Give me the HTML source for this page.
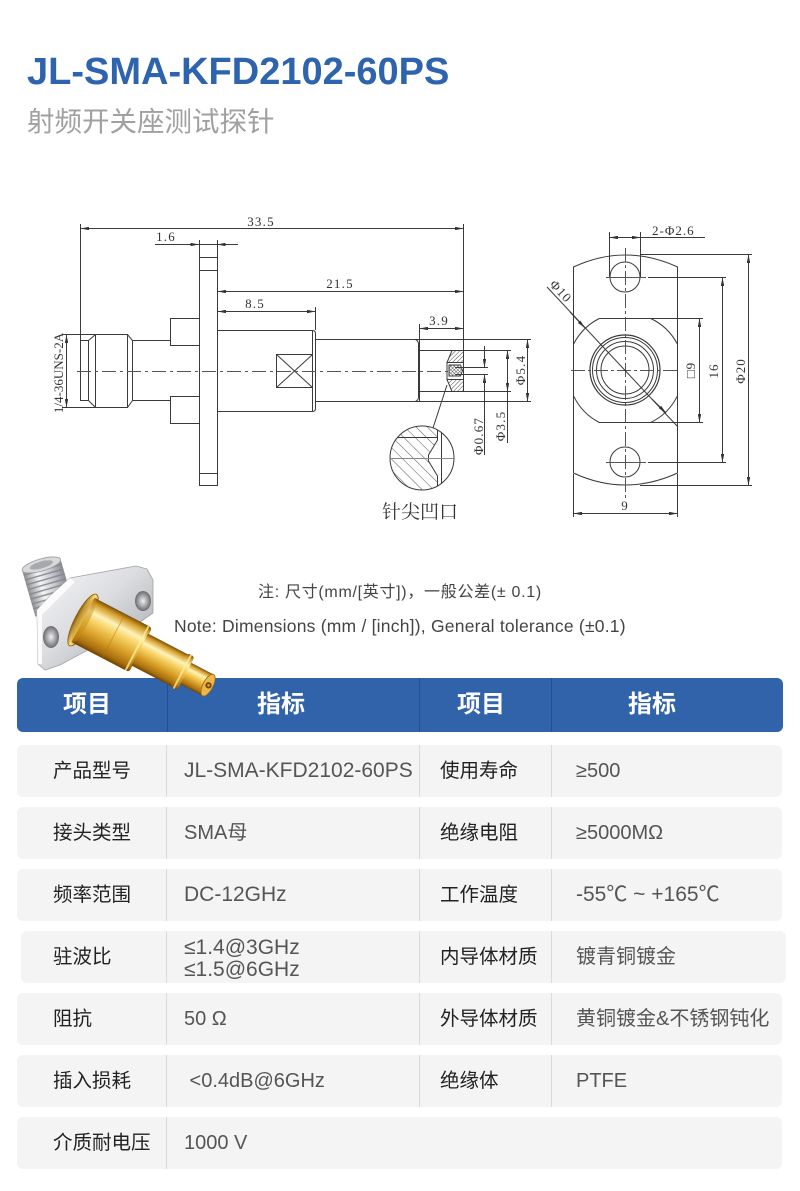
<!DOCTYPE html>
<html><head><meta charset="utf-8">
<style>
*{margin:0;padding:0;box-sizing:border-box}
body{width:800px;height:1191px;background:#fff;position:relative;overflow:hidden;font-family:"Liberation Sans","Noto Sans CJK SC",sans-serif}
.t{position:absolute;white-space:nowrap}
.title{left:27px;top:53px;font-size:38px;line-height:38px;font-weight:700;color:#2e63ad}
.sub{left:27px;top:108px;font-size:27.5px;line-height:27.5px;color:#a0a0a0}
.n1{left:258px;top:583px;font-size:16px;line-height:20px;color:#444;letter-spacing:0.7px}
.n2{left:174px;top:615px;font-size:17.5px;line-height:22px;color:#444;letter-spacing:0.22px}
.hdr{position:absolute;left:17px;top:678px;width:766px;height:54px;background:#3063aa;border-radius:6px}
.hdr .d{position:absolute;top:0;bottom:0;width:1px;background:#24508f}
.hdr .h{position:absolute;top:0;height:54px;line-height:54px;font-size:24px;font-weight:700;color:#fff;white-space:nowrap}
.row{position:absolute;left:17px;width:765px;height:52px;background:#f4f4f4;border-radius:6px}
.row .d{position:absolute;top:0;bottom:0;width:1px;background:#dadada}
.c{position:absolute;top:0;height:52px;line-height:52px;white-space:nowrap}
.l{color:#222;font-size:19.5px}
.v{color:#555;font-size:20px}
.vl{font-size:21px}
</style></head>
<body>
<div class="t title">JL-SMA-KFD2102-60PS</div>
<div class="t sub">射频开关座测试探针</div>
<div class="t n1">注: 尺寸(mm/[英寸])，一般公差(± 0.1)</div>
<div class="t n2">Note: Dimensions (mm / [inch]), General tolerance (±0.1)</div>

<div class="hdr">
  <div class="d" style="left:150px"></div><div class="d" style="left:402px"></div><div class="d" style="left:534px"></div>
  <div class="h" style="left:46px">项目</div>
  <div class="h" style="left:240px">指标</div>
  <div class="h" style="left:440px">项目</div>
  <div class="h" style="left:611px">指标</div>
</div>

<div class="row" style="top:745px">
  <div class="d" style="left:149px"></div><div class="d" style="left:402px"></div><div class="d" style="left:534px"></div>
  <div class="c l" style="left:36px">产品型号</div><div class="c v vl" style="left:167px">JL-SMA-KFD2102-60PS</div>
  <div class="c l" style="left:423px">使用寿命</div><div class="c v" style="left:559px">≥500</div>
</div>
<div class="row" style="top:807px">
  <div class="d" style="left:149px"></div><div class="d" style="left:402px"></div><div class="d" style="left:534px"></div>
  <div class="c l" style="left:36px">接头类型</div><div class="c v" style="left:167px">SMA母</div>
  <div class="c l" style="left:423px">绝缘电阻</div><div class="c v" style="left:559px">≥5000MΩ</div>
</div>
<div class="row" style="top:869px">
  <div class="d" style="left:149px"></div><div class="d" style="left:402px"></div><div class="d" style="left:534px"></div>
  <div class="c l" style="left:36px">频率范围</div><div class="c v vl" style="left:167px">DC-12GHz</div>
  <div class="c l" style="left:423px">工作温度</div><div class="c v vl" style="left:559px">-55℃ ~ +165℃</div>
</div>
<div class="row" style="top:931px;left:21px">
  <div class="d" style="left:145px"></div><div class="d" style="left:398px"></div><div class="d" style="left:530px"></div>
  <div class="c l" style="left:32px">驻波比</div>
  <div class="c v vl" style="left:163px;top:6px;height:22px;line-height:22px">≤1.4@3GHz</div>
  <div class="c v vl" style="left:163px;top:28px;height:22px;line-height:22px">≤1.5@6GHz</div>
  <div class="c l" style="left:419px">内导体材质</div><div class="c v" style="left:555px">镀青铜镀金</div>
</div>
<div class="row" style="top:993px">
  <div class="d" style="left:149px"></div><div class="d" style="left:402px"></div><div class="d" style="left:534px"></div>
  <div class="c l" style="left:36px">阻抗</div><div class="c v" style="left:167px">50 Ω</div>
  <div class="c l" style="left:423px">外导体材质</div><div class="c v" style="left:559px">黄铜镀金&amp;不锈钢钝化</div>
</div>
<div class="row" style="top:1055px">
  <div class="d" style="left:149px"></div><div class="d" style="left:402px"></div><div class="d" style="left:534px"></div>
  <div class="c l" style="left:36px">插入损耗</div><div class="c v" style="left:167px">&nbsp;&lt;0.4dB@6GHz</div>
  <div class="c l" style="left:423px">绝缘体</div><div class="c v" style="left:559px">PTFE</div>
</div>
<div class="row" style="top:1117px">
  <div class="d" style="left:149px"></div>
  <div class="c l" style="left:36px">介质耐电压</div><div class="c v" style="left:167px">1000 V</div>
</div>

<svg width="800" height="1191" viewBox="0 0 800 1191" style="position:absolute;left:0;top:0;z-index:3" xmlns="http://www.w3.org/2000/svg">
<defs>
  <marker id="ar" viewBox="0 0 10 4" refX="10" refY="2" markerWidth="9" markerHeight="3.4" markerUnits="userSpaceOnUse" orient="auto-start-reverse"><path d="M0,0 L10,2 L0,4 z" fill="#333"/></marker>
  <pattern id="h1" width="3" height="3" patternUnits="userSpaceOnUse" patternTransform="rotate(45)"><line x1="0" y1="0" x2="0" y2="3" stroke="#333" stroke-width="0.9"/></pattern>
  <pattern id="h2" width="2.5" height="2.5" patternUnits="userSpaceOnUse" patternTransform="rotate(45)"><path d="M0,0 V2.5 M0,0 H2.5" stroke="#333" stroke-width="0.8"/></pattern>
  <pattern id="h3" width="8" height="8" patternUnits="userSpaceOnUse" patternTransform="rotate(-45)"><line x1="0" y1="0" x2="0" y2="8" stroke="#444" stroke-width="0.9"/></pattern>
  <clipPath id="dc"><circle cx="422" cy="458" r="32"/></clipPath>
  <linearGradient id="gold" x1="0" y1="0" x2="0" y2="1">
    <stop offset="0" stop-color="#7a4e06"/><stop offset="0.1" stop-color="#d29a26"/>
    <stop offset="0.28" stop-color="#fff3b8"/><stop offset="0.45" stop-color="#f6d060"/>
    <stop offset="0.7" stop-color="#d59a22"/><stop offset="0.9" stop-color="#a86e0e"/><stop offset="1" stop-color="#6a4204"/>
  </linearGradient>
  <linearGradient id="gold2" x1="0" y1="0" x2="1" y2="0">
    <stop offset="0" stop-color="#8a5a08"/><stop offset="0.5" stop-color="#ffe27a"/><stop offset="1" stop-color="#a06a10"/>
  </linearGradient>
  <linearGradient id="sil" x1="0" y1="0" x2="1" y2="1">
    <stop offset="0" stop-color="#f7f7f9"/><stop offset="0.45" stop-color="#dcdde0"/><stop offset="0.8" stop-color="#b8b9be"/><stop offset="1" stop-color="#e2e2e5"/>
  </linearGradient>
  <linearGradient id="sil2" x1="0" y1="0" x2="1" y2="0">
    <stop offset="0" stop-color="#8e8f94"/><stop offset="0.35" stop-color="#f4f4f6"/><stop offset="0.7" stop-color="#c4c5ca"/><stop offset="1" stop-color="#8a8b90"/>
  </linearGradient>
  <radialGradient id="hole"><stop offset="0" stop-color="#f0f0f0"/><stop offset="0.6" stop-color="#a0a0a4"/><stop offset="1" stop-color="#6a6a6e"/></radialGradient>
</defs>

<!-- ===== Side view drawing ===== -->
<g stroke="#3a3a3a" stroke-width="1" fill="none">
  <line x1="80.5" y1="228.5" x2="463.5" y2="228.5" marker-start="url(#ar)" marker-end="url(#ar)"/>
  <line x1="80.5" y1="224" x2="80.5" y2="340"/>
  <line x1="463.5" y1="224" x2="463.5" y2="392"/>
  <line x1="155" y1="244.5" x2="238" y2="244.5"/>
  <line x1="188" y1="244.5" x2="199" y2="244.5" marker-end="url(#ar)"/>
  <line x1="228" y1="244.5" x2="217" y2="244.5" marker-end="url(#ar)"/>
  <line x1="199.5" y1="240" x2="199.5" y2="257"/>
  <line x1="217.5" y1="240" x2="217.5" y2="257"/>
  <line x1="217.5" y1="291.5" x2="463.5" y2="291.5" marker-start="url(#ar)" marker-end="url(#ar)"/>
  <line x1="217.5" y1="311.5" x2="315.5" y2="311.5" marker-start="url(#ar)" marker-end="url(#ar)"/>
  <line x1="315.5" y1="307" x2="315.5" y2="330"/>
  <line x1="419.5" y1="328.5" x2="463.5" y2="328.5" marker-start="url(#ar)" marker-end="url(#ar)"/>
  <line x1="419.5" y1="324" x2="419.5" y2="339"/>
  <line x1="66.5" y1="334.5" x2="66.5" y2="407.5" marker-start="url(#ar)" marker-end="url(#ar)"/>
  <line x1="62" y1="334.5" x2="95" y2="334.5"/>
  <line x1="62" y1="407.5" x2="95" y2="407.5"/>
  <path d="M80.5,340.5 H88.5 L95.5,334.5 H127.5 L132.5,340.5 V400.5 L127.5,407.5 H95.5 L88.5,400.5 H80.5 Z"/>
  <line x1="88.5" y1="340.5" x2="88.5" y2="400.5"/>
  <line x1="95.5" y1="334.5" x2="95.5" y2="407.5"/>
  <line x1="127.5" y1="334.5" x2="127.5" y2="407.5"/>
  <line x1="132" y1="340.5" x2="170" y2="340.5"/>
  <line x1="132" y1="400.5" x2="170" y2="400.5"/>
  <path d="M199.5,318.5 H170.5 V345.5 H199.5"/>
  <path d="M199.5,396.5 H170.5 V423.5 H199.5"/>
  <rect x="199.5" y="257.5" width="18" height="228"/>
  <line x1="199.5" y1="270.5" x2="217.5" y2="270.5"/>
  <line x1="199.5" y1="473.5" x2="217.5" y2="473.5"/>
  <path d="M217.5,330.5 H312.5 Q315.5,330.5 315.5,333.5 V408.5 Q315.5,411.5 312.5,411.5 H217.5"/>
  <line x1="312.5" y1="331" x2="312.5" y2="411"/>
  <rect x="276.5" y="354.5" width="36" height="33"/>
  <line x1="276.5" y1="354.5" x2="312.5" y2="387.5"/>
  <line x1="276.5" y1="387.5" x2="312.5" y2="354.5"/>
  <line x1="315" y1="339.5" x2="531" y2="339.5"/>
  <line x1="315" y1="401.5" x2="531" y2="401.5"/>
  <path d="M415.5,339.5 Q418.5,341 418.5,344 V397 Q418.5,400 415.5,401.5"/>
  <line x1="419.5" y1="339.5" x2="419.5" y2="401.5"/>
  <line x1="419.5" y1="350.5" x2="511" y2="350.5"/>
  <line x1="419.5" y1="391.5" x2="511" y2="391.5"/>
  <path d="M452,350.5 H463.5 V362.5 H447 Z" fill="url(#h1)"/>
  <path d="M447,379.5 H463.5 V391.5 H452 Z" fill="url(#h1)"/>
  <path d="M449,365 H460.5 L462.5,370.5 L460.5,376 H449 Z" fill="url(#h2)"/>
  <line x1="447" y1="362.5" x2="447" y2="379.5"/>
  <line x1="455" y1="367.5" x2="488" y2="367.5"/>
  <line x1="455" y1="374.5" x2="488" y2="374.5"/>
  <line x1="484.5" y1="346" x2="484.5" y2="367.5" marker-end="url(#ar)"/>
  <line x1="484.5" y1="455" x2="484.5" y2="374.5" marker-end="url(#ar)"/>
  <line x1="507.5" y1="350.5" x2="507.5" y2="391.5" marker-start="url(#ar)" marker-end="url(#ar)"/>
  <line x1="507.5" y1="391.5" x2="507.5" y2="443"/>
  <line x1="527.5" y1="339.5" x2="527.5" y2="401.5" marker-start="url(#ar)" marker-end="url(#ar)"/>
  <line x1="77" y1="371.5" x2="452" y2="371.5" stroke="#555" stroke-dasharray="14,4,3,4"/>
  <line x1="447" y1="385" x2="433" y2="428"/>
  <circle cx="422" cy="458" r="32"/>
  <g clip-path="url(#dc)">
    <path d="M380,420 H437.5 V440 L428.5,455 V461 L437.5,476 V500 H380 Z" fill="url(#h3)" stroke="none"/>
    <path d="M437.5,420 V440 L428.5,455 V461 L437.5,476 V500"/>
    <line x1="441.5" y1="420" x2="441.5" y2="500"/>
    <line x1="392" y1="437.5" x2="437.5" y2="437.5"/>
    <line x1="386" y1="458.5" x2="458" y2="458.5" stroke="#888"/>
  </g>
</g>
<g font-family="'Liberation Serif','Noto Serif CJK SC',serif" font-size="13" fill="#333" letter-spacing="1.2">
  <text x="261" y="226" text-anchor="middle">33.5</text>
  <text x="166" y="241" text-anchor="middle">1.6</text>
  <text x="340" y="288" text-anchor="middle">21.5</text>
  <text x="255" y="308" text-anchor="middle">8.5</text>
  <text x="439" y="325" text-anchor="middle">3.9</text>
  <text transform="translate(63,373) rotate(-90)" text-anchor="middle" letter-spacing="0">1/4-36UNS-2A</text>
  <text transform="translate(525,370) rotate(-90)" text-anchor="middle">Φ5.4</text>
  <text transform="translate(505,426) rotate(-90)" text-anchor="middle">Φ3.5</text>
  <text transform="translate(483,436) rotate(-90)" text-anchor="middle">Φ0.67</text>
</g>
<text x="420" y="518" text-anchor="middle" font-family="'Noto Serif CJK SC','Noto Sans CJK SC',serif" font-size="19" fill="#333">针尖凹口</text>

<!-- ===== Front view drawing ===== -->
<g stroke="#3a3a3a" stroke-width="1" fill="none">
  <path d="M573.5,267 Q625,243 677.5,267 V473 Q625,497 573.5,473 Z"/>
  <path d="M599.3,318.5 H650.7 A58,58 0 0 1 677.5,344.3 M677.5,395.7 A58,58 0 0 1 650.7,422.5 H599.3 A58,58 0 0 1 573.5,395.7 M573.5,344.3 A58,58 0 0 1 599.3,318.5"/>
  <circle cx="625" cy="370" r="35" stroke-width="1.2"/>
  <circle cx="625" cy="370" r="32.5"/>
  <circle cx="625" cy="370" r="28.5"/>
  <circle cx="625" cy="370" r="24"/>
  <circle cx="625" cy="277" r="15"/>
  <circle cx="625" cy="462" r="15"/>
  <line x1="625.5" y1="248" x2="625.5" y2="498" stroke="#555" stroke-dasharray="14,3,3,3"/>
  <line x1="571" y1="370.5" x2="680" y2="370.5" stroke="#555" stroke-dasharray="14,3,3,3"/>
  <line x1="606" y1="277.5" x2="646" y2="277.5" stroke="#555"/>
  <line x1="606" y1="462.5" x2="646" y2="462.5" stroke="#555"/>
  <line x1="609.5" y1="232" x2="609.5" y2="277"/>
  <line x1="640.5" y1="232" x2="640.5" y2="277"/>
  <line x1="609.5" y1="237.5" x2="640.5" y2="237.5" marker-start="url(#ar)" marker-end="url(#ar)"/>
  <line x1="640.5" y1="237.5" x2="705" y2="237.5"/>
  <line x1="547" y1="287" x2="678" y2="427"/>
  <line x1="570" y1="312" x2="585" y2="328" marker-end="url(#ar)"/>
  <line x1="652" y1="399" x2="666" y2="413" marker-end="url(#ar)"/>
  <line x1="651" y1="318.5" x2="703" y2="318.5"/>
  <line x1="651" y1="422.5" x2="703" y2="422.5"/>
  <line x1="699.5" y1="318.5" x2="699.5" y2="422.5" marker-start="url(#ar)" marker-end="url(#ar)"/>
  <line x1="648" y1="277.5" x2="726" y2="277.5"/>
  <line x1="648" y1="462.5" x2="726" y2="462.5"/>
  <line x1="722.5" y1="277.5" x2="722.5" y2="462.5" marker-start="url(#ar)" marker-end="url(#ar)"/>
  <line x1="640" y1="254.5" x2="752" y2="254.5"/>
  <line x1="640" y1="485.5" x2="752" y2="485.5"/>
  <line x1="748.5" y1="254.5" x2="748.5" y2="485.5" marker-start="url(#ar)" marker-end="url(#ar)"/>
  <line x1="573.5" y1="474" x2="573.5" y2="517"/>
  <line x1="677.5" y1="474" x2="677.5" y2="517"/>
  <line x1="573.5" y1="513.5" x2="677.5" y2="513.5" marker-start="url(#ar)" marker-end="url(#ar)"/>
</g>
<g font-family="'Liberation Serif','Noto Serif CJK SC',serif" font-size="13" fill="#333" letter-spacing="1">
  <text x="652" y="235">2-Φ2.6</text>
  <text transform="translate(549,285) rotate(47)">Φ10</text>
  <text transform="translate(695,370) rotate(-90)" text-anchor="middle">□9</text>
  <text transform="translate(718,371) rotate(-90)" text-anchor="middle">16</text>
  <text transform="translate(745,371) rotate(-90)" text-anchor="middle">Φ20</text>
  <text x="625" y="510" text-anchor="middle">9</text>
</g>

<!-- ===== Product photo ===== -->
<g>
  <g transform="translate(48,588) rotate(-16)">
    <rect x="-20" y="-24" width="40" height="48" fill="url(#sil2)"/>
    <g stroke="#85868b" stroke-width="1.5" opacity="0.85">
      <line x1="-20" y1="-19" x2="20" y2="-19"/><line x1="-20" y1="-14" x2="20" y2="-14"/>
      <line x1="-20" y1="-9" x2="20" y2="-9"/><line x1="-20" y1="-4" x2="20" y2="-4"/>
      <line x1="-20" y1="1" x2="20" y2="1"/><line x1="-20" y1="6" x2="20" y2="6"/>
      <line x1="-20" y1="11" x2="20" y2="11"/><line x1="-20" y1="16" x2="20" y2="16"/>
    </g>
    <ellipse cx="0" cy="-24" rx="20" ry="6" fill="#d8d9dc" stroke="#9a9b9f" stroke-width="0.8"/>
    <ellipse cx="0" cy="-24" rx="12" ry="3.5" fill="#a8a9ad"/>
  </g>
  <polygon points="70,578 136,566 147,569 153,580 153,613 140,622 60,665 45,670 38,664 37,610 50,596" fill="url(#sil)" stroke="#a4a4a8" stroke-width="0.8"/>
  <polygon points="37,610 50,596 70,578 75,582 55,602 42,615 42,664 38,664" fill="#fbfbfb"/>
  <ellipse cx="143" cy="601" rx="8" ry="10" fill="url(#hole)"/>
  <ellipse cx="51" cy="637" rx="8" ry="11" fill="url(#hole)"/>
  <g transform="translate(83,620) rotate(27.5)">
    <ellipse cx="0" cy="0" rx="8" ry="29" fill="url(#gold2)" stroke="#8a5a08" stroke-width="0.8"/>
    <rect x="0" y="-25" width="60" height="50" fill="url(#gold)"/>
    <ellipse cx="1" cy="0" rx="5" ry="25" fill="#c48a1a" opacity="0.45"/>
    <rect x="34" y="-25" width="1" height="50" fill="#b07a14" opacity="0.5"/>
    <rect x="57" y="-25" width="8" height="50" rx="3" fill="url(#gold)"/>
    <rect x="60" y="-25" width="2" height="50" fill="#fff0a0" opacity="0.75"/>
    <rect x="64" y="-18" width="46" height="36" fill="url(#gold)"/>
    <rect x="108" y="-19" width="8" height="38" rx="3" fill="url(#gold)"/>
    <rect x="111" y="-19" width="2" height="38" fill="#ffeea0" opacity="0.75"/>
    <rect x="116" y="-12" width="25" height="24" fill="url(#gold)"/>
    <ellipse cx="141" cy="0" rx="5" ry="12" fill="#ecb848" stroke="#9a6a10" stroke-width="0.8"/>
    <circle cx="141.5" cy="0" r="3.2" fill="#7a4a04"/>
    <circle cx="141.5" cy="0" r="1.3" fill="#d7a040"/>
  </g>
</g>
</svg>
</body></html>
